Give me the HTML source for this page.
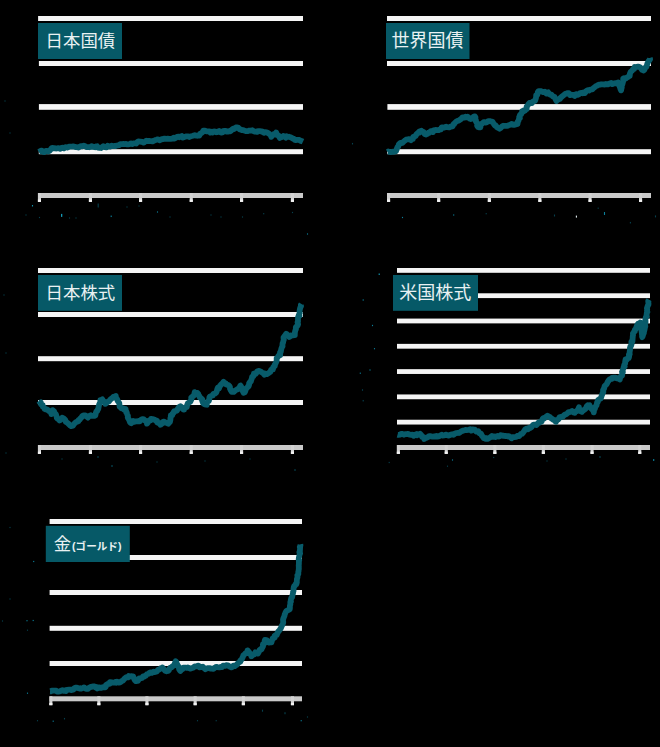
<!DOCTYPE html>
<html lang="ja"><head><meta charset="utf-8"><title>charts</title>
<style>html,body{margin:0;padding:0;background:#000;}body{width:660px;height:747px;overflow:hidden;font-family:"Liberation Sans",sans-serif;}svg{display:block}</style></head>
<body>
<svg width="660" height="747" viewBox="0 0 660 747">
<rect width="660" height="747" fill="#000"/>
<g id="chart1"><title>日本国債</title>
<rect x="38.1" y="16" width="264.9" height="5" fill="#f5f5f5"/>
<rect x="38.9" y="61" width="264.1" height="5" fill="#f5f5f5"/>
<rect x="38.9" y="104.1" width="264.1" height="5.7" fill="#f5f5f5"/>
<rect x="38.8" y="149.2" width="264.2" height="5" fill="#f5f5f5"/>
<rect x="38" y="193" width="265" height="5" fill="#c9c9c9"/>
<rect x="37.9" y="193" width="3.1" height="8.9" fill="#d2d2d2"/>
<rect x="37.9" y="199.6" width="3.1" height="2.3" fill="#f2f2f2"/>
<rect x="88.9" y="193" width="3.1" height="8.9" fill="#d2d2d2"/>
<rect x="88.9" y="199.6" width="3.1" height="2.3" fill="#f2f2f2"/>
<rect x="139" y="193" width="3.1" height="8.9" fill="#d2d2d2"/>
<rect x="139" y="199.6" width="3.1" height="2.3" fill="#f2f2f2"/>
<rect x="189.7" y="193" width="3.1" height="8.9" fill="#d2d2d2"/>
<rect x="189.7" y="199.6" width="3.1" height="2.3" fill="#f2f2f2"/>
<rect x="240" y="193" width="3.1" height="8.9" fill="#d2d2d2"/>
<rect x="240" y="199.6" width="3.1" height="2.3" fill="#f2f2f2"/>
<rect x="290.9" y="193" width="3.1" height="8.9" fill="#d2d2d2"/>
<rect x="290.9" y="199.6" width="3.1" height="2.3" fill="#f2f2f2"/>
<path d="M38.8 152 40.4 151.1 41.85 150.61 43.39 152.01 44.18 152.15 45.87 150.97 47.03 150.92 48.18 151.52 49.37 150.9 50.88 149.3 51.62 148.21 52.36 147.89 53.8 148.04 55.63 148.43 56.37 148.53 57.64 148.25 58.7 148.19 60.27 148.88 61.16 148.1 62.27 147.72 63.81 148.42 65.47 147.13 66.17 147.27 67.22 147.57 69.74 146.54 70.86 146.59 72.44 146.54 73.48 146.31 74.89 146.94 75.89 147.11 77.09 147.16 78.47 147.61 79.51 146.92 81.02 146.11 82.2 146.4 83.83 145.78 85.26 146.31 86.25 147.04 87.39 147.06 89.21 147.23 90.86 146.88 91.63 146.13 93.26 146.87 95.05 147.3 96.09 146.36 97.11 146.27 97.87 147.52 100.06 147.86 101.16 147.98 102.25 147.2 103.32 146.24 104.56 147 106.58 147.25 107.71 145.71 109.1 146.57 110.12 146.54 111.81 145.71 113.24 146.17 115.01 145.98 115.94 145.98 117.19 145.4 117.61 145.43 119.15 145.18 120.3 144.08 122.02 144.16 122.93 143.96 124.2 144.17 126.15 144.01 127.4 144.41 128.87 144.35 129.92 144.01 131.08 143.31 132.55 144.07 133.38 143.4 135.47 143.45 136.24 143.52 137.45 141.87 138.47 141.42 139.82 141.52 142.02 141.9 142.71 142.27 143.83 142.65 145.19 141.4 146.29 140.75 147.85 141.12 149.11 140.82 150.9 141.23 152.55 141.44 154.1 140.65 155.6 140.05 156.55 139.81 157.86 139.32 159.48 140.22 161.05 139.58 161.57 139.18 162.71 139.12 164.64 138.59 166.29 138.79 167.57 138.73 168.84 138.94 170.14 138.93 170.61 138.84 172.46 138.57 173.71 137.71 174.29 138.53 175.84 137.86 177.02 136.87 178.87 136.58 179.46 137.18 181.73 136.09 182.79 137.62 184.24 137.07 185.94 136.5 186.47 136.32 188.11 136.45 189.25 137.04 190.56 136.28 191.98 136.01 193.02 135.75 194.78 135.11 195.55 135.44 196.55 135.71 197.68 135.73 199.29 135.57 200.07 133.8 201.17 133.23 202.48 132.23 203.26 130.68 204.79 130.54 206.21 131.34 207.66 131.38 209.49 131.44 210.44 132.6 211.8 131.7 212.46 132.43 213.92 131.52 215.72 131.57 216.36 132.26 217.33 132.08 219.12 131.07 220.49 132.23 221.36 132.58 222.48 132.42 222.87 131.05 224.65 130.8 225.88 130.8 226.91 131.72 228.14 131.56 228.94 131.13 230.23 131.3 231.33 130.4 232.09 129.55 233.12 128.7 234.04 129.1 236.03 127.46 237.23 127.31 238.27 127.74 239.88 129.48 241.01 129.67 241.98 130.19 242.65 130.04 243.84 130.35 245.84 131.13 247.9 131.11 249.35 130.58 250.49 130.53 252.31 130.24 253.64 131.19 254.34 131.56 255.47 131.65 257.11 131.85 258.01 131.18 259.64 131.04 261.19 131.28 262.4 131.93 262.91 131.71 264.04 132.74 265.37 132.23 266.95 132.31 268.33 133.23 269.94 134.35 270.47 134.69 271.34 136.8 272.92 134.82 274.48 133.78 275.49 133.56 276.15 132.55 276.51 133.95 276.93 135.12 278.27 135.09 278.98 136.42 279.78 137.95 280.84 136.97 282.3 137.02 283.32 136.05 284.43 136.45 285.79 137.6 286.72 136.23 287.77 136.87 289.2 136.77 290.2 137.23 291.26 137.73 293.45 138.81 293.65 138.76 294.83 139.82 296.15 140.09 296.89 139.85 298.09 139.81 299.21 139.93 300.97 141.03 301.33 140.93 303 141.7" fill="none" stroke="#085b6a" stroke-width="5.8" stroke-linejoin="round" stroke-linecap="butt"/>
<rect x="38" y="23" width="84" height="36" fill="#065967"/>
<text x="45.6" y="47" font-size="17.4" fill="#e9f1f2" font-family="&quot;Liberation Sans&quot;, &quot;Noto Sans CJK JP&quot;, sans-serif">日本国債</text>
</g>
<g id="chart2"><title>世界国債</title>
<rect x="387" y="16" width="264" height="5" fill="#f5f5f5"/>
<rect x="387" y="61" width="264" height="5" fill="#f5f5f5"/>
<rect x="387.4" y="104.1" width="263.6" height="5.7" fill="#f5f5f5"/>
<rect x="387.2" y="149.2" width="263.8" height="5" fill="#f5f5f5"/>
<rect x="387" y="193" width="264" height="5" fill="#c9c9c9"/>
<rect x="387" y="193" width="3.1" height="8.9" fill="#d2d2d2"/>
<rect x="387" y="199.6" width="3.1" height="2.3" fill="#f2f2f2"/>
<rect x="437.1" y="193" width="3.1" height="8.9" fill="#d2d2d2"/>
<rect x="437.1" y="199.6" width="3.1" height="2.3" fill="#f2f2f2"/>
<rect x="487.8" y="193" width="3.1" height="8.9" fill="#d2d2d2"/>
<rect x="487.8" y="199.6" width="3.1" height="2.3" fill="#f2f2f2"/>
<rect x="538.3" y="193" width="3.1" height="8.9" fill="#d2d2d2"/>
<rect x="538.3" y="199.6" width="3.1" height="2.3" fill="#f2f2f2"/>
<rect x="588.5" y="193" width="3.1" height="8.9" fill="#d2d2d2"/>
<rect x="588.5" y="199.6" width="3.1" height="2.3" fill="#f2f2f2"/>
<rect x="639" y="193" width="3.1" height="8.9" fill="#d2d2d2"/>
<rect x="639" y="199.6" width="3.1" height="2.3" fill="#f2f2f2"/>
<path d="M387.5 152 388.2 151.51 390.65 152.2 391.58 151.95 393.65 151.65 394.08 151.77 395.99 151.18 396.48 149.85 396.87 148.88 397.43 147.26 398.33 146.48 398.65 145.05 398.8 144.42 400.41 142.95 401.29 143.08 402.35 142.9 404.06 141.23 405.13 140.45 406.11 139.68 408.23 139.25 409.4 139.12 410.95 140.15 412.21 138.97 412.9 138.91 413.24 136.89 414.47 136.4 415.53 136.03 416.63 134.01 417.52 133.38 418.92 131.88 419.58 132.4 420.48 131.26 421.35 130.76 422.25 131.67 423.4 131.81 424.59 133.86 425.8 134.51 427.45 133.86 428.43 132.77 429.26 132.82 430.8 131.13 432.17 131.54 432.99 132.05 433.79 130.41 435.51 129.93 436.76 130.13 438.62 130.21 439.4 129.62 440.88 129.34 441.68 127.42 442.86 127.5 444.02 127.68 445.13 127.04 446.13 126.76 447.3 127.19 449.23 127.44 450.68 126.69 452.45 126.39 453.5 124.2 454.23 124.09 454.44 123.27 456.05 121.72 457.42 120.89 458.7 120.68 460.07 119.73 461.6 118.47 462.18 117.62 462.67 117.36 464.28 117.58 465.46 116.76 466.9 117.32 467.63 116.83 469.85 118.62 470.67 119.05 472.51 118.45 473.69 116.66 474.88 116.45 475.48 117.32 475.09 118.25 475.92 120.25 475.93 121.4 476.45 122.36 477.12 123.05 477.9 124.45 477.16 125.69 478.26 127.15 478.67 127.41 480.41 127.31 480.45 126.9 480.41 124.89 481.58 123.87 482.43 123.44 482.93 122.65 483.93 122.07 484.69 122.11 485.75 122.53 486.82 122.15 488.23 121.11 489.54 121.04 490.69 121.36 492.58 121.76 493.5 123.54 494.16 124.37 495.12 125.56 495.7 125.52 496.91 127.17 498.15 127.76 499.55 128.71 501.06 127.6 502.3 126.28 503.24 125.77 505.47 125.91 506.76 125.97 507.97 125.68 508.51 125.26 510.4 124.8 511.49 123.9 513.42 124.84 514.82 124.74 514.94 124.44 516.3 124.28 517.58 123.89 517.69 121.77 518.45 120.75 519.09 118.49 519.84 117.96 519.27 116.81 519.21 116.99 520.18 114.72 521.13 114.38 521.9 112.76 522.22 111.07 524.28 110.18 524.77 110.81 526.09 109.38 526.7 109.15 526.63 106.51 527.52 105.66 528.25 104.47 529.57 102.95 530.7 102.82 531.82 103.15 532.8 101.63 535.04 100.74 535.64 99.06 535.95 97.89 536.19 96.38 536.17 95.12 537.3 94.66 537.81 92.77 537.76 92.15 538.74 91.03 540.49 91.04 542.2 91.66 543.25 92.18 544.92 91.75 545.7 92.35 546.49 93.51 548.18 92.37 549.55 94.28 550.16 94.6 551.39 94.67 552.84 96.38 554.09 96.77 554.48 96.95 555.72 99.53 556.56 100.96 556.82 100.33 558.21 99.57 559.88 98.87 560.48 97.92 561.88 96.58 562.97 95.76 564.51 94.55 565.43 93.83 566.63 93.49 567.34 93.12 568.76 93.21 570.24 95.09 570.94 94.61 571.92 94.82 573.35 94.94 574.67 95.99 575.74 94.41 576.76 94.15 577.68 94.78 578.8 94.3 579.94 93.27 581.03 92.82 582.6 93.28 583.43 92.52 584.86 92.98 586.06 91.39 586.52 90.76 588.02 90.04 588.99 90.47 590.29 89.61 592.2 89.43 593.3 88.32 594.24 87.58 595.63 86.39 596.2 85.96 597.34 85.57 598.75 84.68 600.3 84.7 601.19 84.27 603.16 84.4 604.9 84.65 605.95 84 607.25 84.3 608 84.27 609.86 83.49 611.18 82.96 612.41 84.14 612.88 83.97 614.19 83.38 614.87 83.21 616.15 83.35 618.12 82.53 618.49 83.9 618.74 84.63 619.45 86.11 619.79 86.69 620.59 89.3 621.11 90.34 621.31 89.07 621.78 87.25 621.67 86.34 621.44 85.2 622.39 84.29 622.58 83.37 622.95 82.18 623.23 80.96 623.16 78.66 624.2 78.16 625.66 78.68 627.05 77.42 627.95 77.1 628.85 76.15 629.75 75.87 629.87 73.81 630.66 71.84 631.78 70.84 632.76 69.92 632.96 69.01 634.14 68.87 634.66 66.96 635.55 67.33 636.39 66.81 637.6 66.77 638.8 66.73 640.13 67.15 641.19 68.55 642.05 69.8 643.74 70.46 644.47 69.57 645.22 67.62 646.52 66.79 646.62 66.3 647.26 63.97 647.82 62.92 648.06 61.92 648.72 61 650.09 59.15 649.7 58" fill="none" stroke="#085b6a" stroke-width="5.8" stroke-linejoin="round" stroke-linecap="butt"/>
<rect x="386" y="23" width="83.5" height="36" fill="#065967"/>
<text x="391.6" y="47" font-size="18" fill="#e9f1f2" font-family="&quot;Liberation Sans&quot;, &quot;Noto Sans CJK JP&quot;, sans-serif">世界国債</text>
</g>
<g id="chart3"><title>日本株式</title>
<rect x="38" y="268" width="265" height="5" fill="#f5f5f5"/>
<rect x="38" y="312" width="265" height="5" fill="#f5f5f5"/>
<rect x="38" y="356.2" width="265" height="5" fill="#f5f5f5"/>
<rect x="38" y="400" width="265" height="5" fill="#f5f5f5"/>
<rect x="38" y="445" width="265" height="5" fill="#c9c9c9"/>
<rect x="37.9" y="445" width="3.1" height="8.9" fill="#d2d2d2"/>
<rect x="37.9" y="451.6" width="3.1" height="2.3" fill="#f2f2f2"/>
<rect x="88.9" y="445" width="3.1" height="8.9" fill="#d2d2d2"/>
<rect x="88.9" y="451.6" width="3.1" height="2.3" fill="#f2f2f2"/>
<rect x="139" y="445" width="3.1" height="8.9" fill="#d2d2d2"/>
<rect x="139" y="451.6" width="3.1" height="2.3" fill="#f2f2f2"/>
<rect x="189.7" y="445" width="3.1" height="8.9" fill="#d2d2d2"/>
<rect x="189.7" y="451.6" width="3.1" height="2.3" fill="#f2f2f2"/>
<rect x="240" y="445" width="3.1" height="8.9" fill="#d2d2d2"/>
<rect x="240" y="451.6" width="3.1" height="2.3" fill="#f2f2f2"/>
<rect x="290.9" y="445" width="3.1" height="8.9" fill="#d2d2d2"/>
<rect x="290.9" y="451.6" width="3.1" height="2.3" fill="#f2f2f2"/>
<path d="M38.8 401 40.23 402.79 40.8 402.37 40.76 403.67 41.23 404.54 42.68 405 42.65 406.53 43.4 406.65 44.73 408.99 45.67 409.45 47.38 409.67 47.35 409.65 48.39 410.69 49.68 411.21 50.69 411.55 51.35 414.08 52.42 411.61 52.67 410.14 54.13 411.38 54.31 412.71 55.34 413.79 55.84 414.32 56.72 416.87 56.79 417.77 57.68 418.78 58.63 419.01 59.5 420.4 60.45 419.89 62.19 417.8 63.69 418.38 64.04 418.88 65.29 419.89 65.78 421.87 66.38 422.15 68.12 423.31 68.34 423.66 69.89 425.23 71.14 426.08 71.98 425.94 72.99 425.72 73.71 424.36 75.01 422.97 76.08 422.1 77.18 421.59 78.42 421.24 78.69 419.94 79.79 419.49 80.4 418.46 81.28 417.67 82.17 416.16 83.33 415.42 84.2 415.73 85.16 415.44 86.29 415.99 87.82 417.61 89.08 416.14 90.76 415.27 91.57 415.9 93.49 415.95 94.41 415.92 95.35 415.46 95.73 413.42 96.3 411.58 97.17 411.08 97.81 409.44 98.32 408.96 98.39 408.25 98.56 407.38 99.07 404.69 99.41 403.98 100.46 401.81 100.32 400.2 101.33 400.04 102.28 399.38 102.84 400.5 103.96 401.41 104.53 401.95 105.32 403.79 106.94 402.61 108.21 401.53 108.74 401.67 110.39 399.55 111.67 398.46 112.28 398.19 113.42 396.89 114.61 396.67 115.74 395.93 115.68 397.26 116.78 398.73 117.35 399.97 117.71 400.62 117.93 401.31 119.26 402.97 119.41 404.44 119.57 406.57 120.6 407.08 121.13 408.08 122.02 408.45 123.26 408.52 124.36 409.86 125.59 409.1 125.95 411.84 126.49 411.73 127.13 414.04 127.95 415.97 127.75 417.25 128.1 418.26 129.23 420.04 129.76 421.6 130.01 422.28 130.75 423.03 131.24 423.29 132.5 422.07 133.33 421.08 134.63 421.8 136.14 421.32 138.32 421.18 139.75 421.27 140.96 419.88 141.7 419.37 142.74 419.18 143.88 419.37 145.16 420.73 146.94 421.95 146.98 423.7 148 422.49 148.9 420.7 150.65 420.39 151.06 418.82 152.43 419.04 154.24 419.51 155.36 420.23 157.08 420.79 157.23 422.38 158.63 423.05 160.03 423.88 160.51 424.75 162.35 423.2 162.64 421.95 163.97 421.59 164.91 422.61 166.24 422.68 168.24 423.74 168.74 423.07 169.95 421.85 170.44 419.61 170.39 418.33 170.85 417.11 170.81 415.41 172.33 415.21 172.5 413.75 173.6 412.85 173.65 412.01 174.16 411.38 175.39 411 176.99 410.6 177.74 408.98 178.95 407.27 180.52 406.24 181.12 406.73 181.78 407.87 183.56 409.53 184.17 409.5 184.33 407.83 185.48 407.37 186.79 406.94 187.05 405.34 187.84 403.3 188.66 402.64 190.15 401.75 190.69 400.98 191.4 399.31 191.2 397.72 192.44 396.85 192.67 396.22 193.55 395.92 194.21 394.47 194.66 392.19 195.4 392.77 196.27 393.08 197.42 392.92 198.33 394.12 198.45 395.31 199.52 396.38 199.75 397.4 201.23 398.42 201.73 398.91 202.28 399.42 202.08 400.26 202.42 401.32 203.02 403.07 204.75 404.33 206.05 404.54 206.79 404.72 206.83 402.94 208.07 401.29 208.88 400.97 209.26 399.1 209.42 397.36 210.01 396.6 210.79 396.17 212.19 395.59 212.85 395.48 213.45 393.86 215.04 393.5 216.25 392.48 216.86 390.91 217.26 389.31 217.82 387.74 218.99 388.34 219.99 385.68 220.29 385.54 221.41 384.19 222.76 383.07 223.54 381.76 223.92 382.76 225.65 383.26 225.88 384.25 228.56 385.24 229.54 386.25 229.94 387.05 229.99 388.69 230.48 389.5 230.73 390.29 231.81 391.96 233.61 391.92 235.2 390.57 235.65 390.22 236.94 389.53 237.65 389.24 238.26 388.68 239.34 387.77 240.21 385.91 240.58 385.63 241.24 386.87 241.27 387.18 241.38 388.66 242.48 390.59 243.63 392.71 243.53 392.75 244.37 392.02 244.93 392.18 245.63 390.1 246.25 388.32 247.36 387.5 248.23 386.15 248.68 386.07 249.23 384.17 249.09 383.35 249.8 382.27 250.93 381.25 251.08 380.42 251.71 378.77 252.16 376.7 253.39 376.31 254.03 374.11 253.95 373.69 255.64 373.92 256.26 373.01 257.3 371.29 259.1 370.92 260.45 371.43 261.82 372.39 263.41 373.42 264.41 374.65 264.86 373.48 266.18 374.13 267.24 374.03 268.84 372.83 270.27 371.85 270.6 371.32 271.09 369.8 271.32 369.53 272.95 369.47 273.21 367.06 273.69 366.72 274.82 365.84 274.72 364.74 275.16 364.12 276 362.39 276.54 361.26 276.71 360.44 276.63 358.19 277.79 357.14 278.56 355.81 279.25 355.14 280.14 355.06 280 352.48 280.8 351.74 281.16 349.49 281.54 348.12 282.14 346.77 282.57 346.3 282.4 345.6 282.45 345.18 282.56 343.45 282.96 342.86 283.33 341.15 283.85 339.59 283.63 338.58 283.51 337.47 284.64 336.01 285.9 334.41 286.27 333.71 287.59 335.25 288.26 335.75 289.26 337.01 290.04 336.57 290.6 335.44 291.82 335.52 292.52 335.44 294.03 335.08 294.8 335.12 294.78 333.94 295.05 331.49 295.5 329.96 295.95 329.08 295.82 328.06 295.9 327.01 297 326.18 297.77 325.15 298.08 324.14 297.54 322.16 298 321.4 297.97 320.62 297.99 318.32 298.21 316.48 299.45 315.86 298.75 315.14 299.55 313.41 299.84 313 299.49 311.6 299.54 311.17 299.96 308.88 300.2 307.77 301.03 306.22 300.83 305.09 301.5 304" fill="none" stroke="#085b6a" stroke-width="5.8" stroke-linejoin="round" stroke-linecap="butt"/>
<rect x="38" y="275" width="84" height="35.8" fill="#065967"/>
<text x="45.6" y="298.5" font-size="17.4" fill="#e9f1f2" font-family="&quot;Liberation Sans&quot;, &quot;Noto Sans CJK JP&quot;, sans-serif">日本株式</text>
</g>
<g id="chart4"><title>米国株式</title>
<rect x="397" y="268" width="253" height="4.8" fill="#f5f5f5"/>
<rect x="397" y="293.29" width="253" height="4.8" fill="#f5f5f5"/>
<rect x="397" y="318.58" width="253" height="4.8" fill="#f5f5f5"/>
<rect x="397" y="343.87" width="253" height="4.8" fill="#f5f5f5"/>
<rect x="397" y="369.16" width="253" height="4.8" fill="#f5f5f5"/>
<rect x="397" y="394.45" width="253" height="4.8" fill="#f5f5f5"/>
<rect x="397" y="419.74" width="253" height="4.8" fill="#f5f5f5"/>
<rect x="397" y="445" width="253" height="5" fill="#c9c9c9"/>
<rect x="396.8" y="445" width="3.1" height="8.9" fill="#d2d2d2"/>
<rect x="396.8" y="451.6" width="3.1" height="2.3" fill="#f2f2f2"/>
<rect x="444.7" y="445" width="3.1" height="8.9" fill="#d2d2d2"/>
<rect x="444.7" y="451.6" width="3.1" height="2.3" fill="#f2f2f2"/>
<rect x="493.3" y="445" width="3.1" height="8.9" fill="#d2d2d2"/>
<rect x="493.3" y="451.6" width="3.1" height="2.3" fill="#f2f2f2"/>
<rect x="541.8" y="445" width="3.1" height="8.9" fill="#d2d2d2"/>
<rect x="541.8" y="451.6" width="3.1" height="2.3" fill="#f2f2f2"/>
<rect x="590.5" y="445" width="3.1" height="8.9" fill="#d2d2d2"/>
<rect x="590.5" y="451.6" width="3.1" height="2.3" fill="#f2f2f2"/>
<rect x="638.2" y="445" width="3.1" height="8.9" fill="#d2d2d2"/>
<rect x="638.2" y="451.6" width="3.1" height="2.3" fill="#f2f2f2"/>
<path d="M397.5 434.7 398.27 434.91 399.89 434.67 401.42 433.78 402.22 433.93 403.35 434.42 403.95 434.71 405.14 434.12 406.69 434.1 408.05 433.91 409.67 434.69 411.18 434.9 412.45 434.71 413.5 435.83 414.73 434.89 416.58 434.02 417.05 435.22 418.3 434.63 420 433.72 421.18 434.96 422.19 437.05 423.24 437.06 423.8 437.27 424.24 439.04 424.81 437.86 426.23 437.79 427.88 437.01 429.01 436.21 430.35 436.23 432.24 436.52 432.84 436.67 434.42 436.5 434.87 436.71 436.58 435.99 437.23 436.64 438.89 436.42 439.86 435.72 441.65 434.74 442.24 435.48 444.39 435.36 445.58 434.59 447.56 435.26 448.43 435.58 449.8 435.27 450.77 434.52 452.26 434.27 453.24 434.45 453.53 434.68 454.97 433.44 456.41 433.03 457.8 432.84 458.93 433 459.75 432.5 461.44 431.17 463.12 430.62 464.78 430.26 465.43 429.8 466.78 430.03 468.36 429.95 470.24 429.27 471.29 430.48 472.52 429.32 473.82 429.7 474.76 429.71 475.96 431.52 477.29 431.71 478.32 431.19 479.5 433.38 480.89 433.58 481.43 434.71 481.82 435.6 483.19 437.21 483.62 438.04 484.09 438.27 485.68 438.19 485.68 438.77 486.81 438.14 487.54 438.9 489.52 437.81 490.76 437.08 492 435.94 493.63 436.9 494.22 436.39 495.71 437.06 497.51 435.96 499.03 436.49 499.55 436.18 500.47 435.24 502.73 435.52 503.77 435.96 505.54 436 506.99 436.06 508.39 436.62 508.8 436.12 510.03 436.73 511.49 438.24 512.6 437.25 514.37 437.07 516.28 436.87 517.34 435.95 518.88 435.6 519.07 436.07 520.98 433.85 522.11 433.73 523.21 432.54 524.16 431.02 525.2 429.47 525.69 429.78 526.26 428.68 528.27 429.19 528.79 427.96 530.27 428.02 530.97 427.48 531.8 426.78 532.36 425.65 533.66 424.55 535.65 424.64 536.43 424.96 537.29 424.01 538.64 422.49 539.41 422.59 540.49 421.77 541.61 421.57 542.46 419.25 543.31 418.27 544.09 418.49 546 416.89 547.4 415.81 548.07 416.22 550 417.13 550.92 418.18 551.78 418.57 553.46 419.8 555.26 420.09 555.3 421.47 556.09 421.78 556.59 420.22 558.03 419.62 558.84 418.59 559.51 417.3 560.57 416.96 561.65 417.05 562.76 416.6 564.28 415.05 565.03 414.62 566.13 414.29 567.25 413.33 568.28 412.36 569.45 412.04 570.77 411.77 572.03 411.05 573.45 412.37 574.71 412.72 574.81 412.33 576.01 411.39 576.82 411.16 578.2 409.21 578.98 407.2 578.92 408.99 580.19 411.03 581.12 411.19 581.86 411.8 582.37 411.15 583.01 410.69 584 409.97 585.58 408.7 586.76 406.4 587.74 405.42 588.25 406.22 589.56 405.38 589.66 406.72 590.45 406.87 591.03 408.27 592.25 409.55 593.47 410.78 593.77 412.37 594.03 409.97 594.12 409.07 594.93 408.64 595.34 406.79 596.46 405.4 596.8 404.09 597.12 402.3 597.87 401.89 598.14 399.89 599.73 399.19 599.73 398.89 600.81 398.57 601.03 397.79 601.69 395.59 602.18 394.48 602.71 392.57 603.35 392.13 603.06 390.27 603.82 388.6 604.09 388.65 604.56 386.27 605.81 384.91 606.22 384.66 606.96 383.59 607.49 382.25 608.55 380.74 609.23 379.73 609.85 379.43 609.86 379.21 611.75 378.84 612.1 377.93 614 377.58 615.45 377.74 616.53 378.41 617.64 378.2 618.64 378.64 619.77 379.48 620.01 377.94 620.86 376.61 620.93 376.19 622.1 375.62 622.4 372.81 622.06 371.93 622.86 372.27 622.69 370.06 623.37 368.54 623.65 367.01 624.67 366.45 624.2 365.11 624.63 364.05 625.18 363.43 625.15 361.75 625.6 359.39 626.61 359.85 627.75 358.11 628.8 358.01 629.15 356.3 628.86 354.67 629.71 354.11 629.46 353.49 629.78 351.1 630.06 349.77 629.94 348.09 630.16 348.11 630.44 346.18 631.05 345.71 631.57 344.17 631.34 341.79 631.77 341.32 632.43 341.31 632.59 338.88 632.79 336.54 632.83 335.78 633.02 335.31 632.94 333.27 633.39 332.85 634.32 331.61 634.87 331.29 634.76 329.92 635.83 328.93 636.15 328.34 636.28 327.27 636.76 326.15 637.98 323.67 639.09 323.74 640.4 322.54 640.22 322.43 640.54 325.06 641.32 325.86 640.95 327.05 641.26 329.03 641.57 330.5 641.55 331.4 641.69 331.64 641.97 334.37 642.28 335.31 642.05 336.24 642.25 337.19 642.72 336.09 643.09 334.73 643.85 332.81 643.06 332.74 643.65 332.6 644.32 330.45 644.59 329.34 644.99 327.26 645.33 326.43 644.96 325.31 645.15 323.26 645.54 322.51 645.53 320.69 645.39 319.95 645.44 319.17 645.81 317.28 646.79 316.5 646.4 315.95 646.6 314.93 646.86 312.62 647.39 311.95 646.96 310.86 647.21 309.71 646.92 308.27 647.71 305.75 648.41 304.65 648.5 303.69 648.31 302.04 648.21 301.12 649.1 299.7" fill="none" stroke="#085b6a" stroke-width="5.8" stroke-linejoin="round" stroke-linecap="butt"/>
<rect x="393" y="275" width="85" height="35.8" fill="#065967"/>
<text x="399.3" y="298.5" font-size="18" fill="#e9f1f2" font-family="&quot;Liberation Sans&quot;, &quot;Noto Sans CJK JP&quot;, sans-serif">米国株式</text>
</g>
<g id="chart5"><title>金(ゴールド)</title>
<rect x="49.6" y="519" width="252.4" height="5" fill="#f5f5f5"/>
<rect x="49.6" y="555" width="252.4" height="5" fill="#f5f5f5"/>
<rect x="49.6" y="590" width="252.4" height="5" fill="#f5f5f5"/>
<rect x="49.6" y="625.8" width="252.4" height="5" fill="#f5f5f5"/>
<rect x="49.6" y="661" width="252.4" height="5" fill="#f5f5f5"/>
<rect x="49.6" y="696.3" width="252.4" height="5" fill="#c9c9c9"/>
<rect x="49.3" y="696.3" width="3.1" height="8.9" fill="#d2d2d2"/>
<rect x="49.3" y="702.9" width="3.1" height="2.3" fill="#f2f2f2"/>
<rect x="97.3" y="696.3" width="3.1" height="8.9" fill="#d2d2d2"/>
<rect x="97.3" y="702.9" width="3.1" height="2.3" fill="#f2f2f2"/>
<rect x="145.4" y="696.3" width="3.1" height="8.9" fill="#d2d2d2"/>
<rect x="145.4" y="702.9" width="3.1" height="2.3" fill="#f2f2f2"/>
<rect x="193.6" y="696.3" width="3.1" height="8.9" fill="#d2d2d2"/>
<rect x="193.6" y="702.9" width="3.1" height="2.3" fill="#f2f2f2"/>
<rect x="241.8" y="696.3" width="3.1" height="8.9" fill="#d2d2d2"/>
<rect x="241.8" y="702.9" width="3.1" height="2.3" fill="#f2f2f2"/>
<rect x="290.9" y="696.3" width="3.1" height="8.9" fill="#d2d2d2"/>
<rect x="290.9" y="702.9" width="3.1" height="2.3" fill="#f2f2f2"/>
<path d="M50 691.3 50.68 691.32 51.9 690.68 53.14 690.69 54.5 690.72 56.12 690.62 56.85 691.54 58.62 691.57 59.94 691.45 61.03 690.66 62.37 690.18 63.73 690.83 65.57 690.21 66.07 691.08 67.14 689.8 69 689.67 70.15 689.67 71.67 690.09 72.95 689.24 73.58 689.49 74.59 687.98 76.03 687.56 77.67 687.9 79.68 688.55 80.46 688.24 81.32 688.5 82.9 687.88 84 687.42 85.59 688.58 86.61 688.88 88.02 688.93 89.24 687.58 90.33 687.13 91.28 686.82 93.47 686.31 94.31 686.46 96.05 687.81 96.58 686.93 97.31 688.35 98.79 687.42 101.02 687.94 101.73 687.5 103.44 687.13 105.18 687.37 105.83 686.6 106.07 684.98 108.05 683.83 109.63 683.75 109.85 682.08 111.8 682.4 112.66 682.55 114.3 682.71 115.28 681.91 116.16 682.62 117 681.77 118.82 682.51 120.44 682.37 121.66 681.09 123 680.5 123.6 679.67 124.86 678.34 126.41 677.22 127.76 677.46 128.68 676.15 129.3 676.81 131.15 676.14 132.51 676.34 133.22 676.56 134.22 678.89 135 680.39 135.94 681.18 137.48 680.67 137.99 680.74 138.4 679.85 139.32 678.31 140.94 678.29 141.97 678.03 143.23 676.37 144.28 676.62 145 675.78 145.78 675.62 146.92 674.21 148.73 673.68 149.34 672.73 150.65 672.44 151.84 672.84 153.6 671.63 154.94 672.11 156.68 671.53 158.25 669.75 159.43 669.43 159.88 669.14 160.77 668.18 161.88 668.41 162.51 667.62 163.94 669.35 165.21 670.73 166.66 671.25 168.08 670.99 169.03 669.97 169.3 668.67 170.05 667.87 171.51 667.54 172.19 666.43 173.92 665.4 174.56 664.2 175.14 662.58 175.65 661.17 176.24 661.96 177.05 663.85 178.13 666.18 178.79 666.76 179.11 669.18 180.29 671.03 181.21 669.3 182.62 669.08 183.53 667.59 184.32 667.57 185.89 667.74 186.62 667.89 187.92 667.38 188.73 667.88 190.33 668.65 191.59 668.04 193.29 667.71 194.41 666.66 194.91 666.42 197 666.3 198.16 665.63 199.46 667.32 200.72 666.65 201.47 667.11 202.85 666.73 204.13 668.04 205.33 669.16 205.93 668.73 207.47 668.22 209.35 668.12 210.93 668.62 211.88 668.62 213.46 668.88 214.26 668.15 216.33 666.8 217.37 667.18 219.26 667.45 220.71 666.88 222.05 667.1 223.14 665.64 223.93 665.8 225.22 665.88 226.16 665.22 228.05 665.32 229.56 666.73 230.19 666.44 231.47 667.33 232.57 666.88 233.45 665.66 234.84 666.04 236.01 665.22 237.44 664.3 237.41 663.73 238.84 662.5 240.39 661.74 240.3 660.51 241.7 659.44 242.28 658.1 243.03 656.57 243.33 655.52 244.24 654.7 245.13 653.91 245.3 653.34 246.72 653.1 247.33 651.61 247.49 650.38 248.43 651.6 248.84 651.84 249.97 653.68 250.91 654.32 251.3 656.24 253.15 654.67 254.1 654.43 254.71 653.6 255.27 652.38 257.3 653.52 257.8 653.62 258.69 652.19 259.46 650.29 260.99 648.94 261.52 649.41 261.92 648.18 262.99 646.33 263 646.09 262.91 644.33 263.82 644.22 264.41 642.03 264.9 640.02 266.82 640.13 267.14 641.6 269.1 642.53 270.59 642.47 271.53 642.33 271.76 640.82 272.11 640.38 272.61 638.46 274.71 637.57 274.62 635.87 275.52 635.37 276.81 634.93 277.2 633.6 277.89 632.45 278.15 631.52 279.03 630.84 279.91 629.55 280.04 629.31 280.97 627.86 281.71 625.9 282.15 625.34 283.08 623.19 283.21 622.42 283.12 620.73 283.02 619.69 283.32 618.61 283.7 617.61 284.45 615.89 284.79 614.19 285.35 613.07 285.62 612.22 286.49 610.86 288.11 610.18 289.7 609.26 289.87 608.24 289.93 606.5 289.92 605.65 290.35 604.39 290.34 603.26 290.32 602 290.91 601.51 290.75 601.21 290.82 599.86 291.2 598.15 292.02 597.36 292.29 595.88 292.68 594.65 293.01 593.37 293.02 591.96 293.55 590.87 293.51 588.99 293.73 587.51 294.14 586.24 294.98 585.49 295.54 584.23 296.33 584.12 296.85 582.22 296.77 581.67 296.96 578.77 297.21 578.31 297.55 576.88 297.34 575.37 298.34 574.06 298.27 572.06 298.55 571.31 298.57 570.59 298.86 568.79 298.79 568.58 298.82 566.1 298.71 565.94 298.92 563.53 298.88 561.59 299.22 560.29 298.69 559.42 298.93 557.61 299.13 556.58 299.62 554.44 300.14 553.34 299.38 552.29 299.74 551.3 299.89 551.33 300.04 548.53 300.1 547.08 299.8 547.03 300.46 545.35 300.3 544.3" fill="none" stroke="#085b6a" stroke-width="5.8" stroke-linejoin="round" stroke-linecap="butt"/>
<rect x="45.8" y="525.8" width="84" height="36.2" fill="#065967"/>
<text x="53.8" y="550" font-size="17.4" fill="#e9f1f2" font-family="&quot;Liberation Sans&quot;, &quot;Noto Sans CJK JP&quot;, sans-serif">金</text>
<text x="72" y="550" font-size="10.5" font-weight="bold" fill="#e9f1f2" textLength="49.5" lengthAdjust="spacingAndGlyphs" font-family="&quot;Liberation Sans&quot;, &quot;Noto Sans CJK JP&quot;, sans-serif">(ゴールド)</text>
</g>
<g id="specks">
<rect x="31.95" y="205.2" width="1.1" height="1.2" fill="#18b4d4"/>
<rect x="61.15" y="213.9" width="1.1" height="3" fill="#18b4d4"/>
<rect x="97.65" y="203.5" width="1.1" height="4" fill="#06404d"/>
<rect x="110.65" y="215.55" width="1.1" height="1.5" fill="#0b7f99"/>
<rect x="156.95" y="211.4" width="1.1" height="1.2" fill="#0b7f99"/>
<rect x="25.45" y="214.4" width="1.1" height="1.2" fill="#06404d"/>
<rect x="38.95" y="216.9" width="1.1" height="1.2" fill="#06404d"/>
<rect x="68.95" y="217.4" width="1.1" height="1.2" fill="#06404d"/>
<rect x="75.45" y="217.4" width="1.1" height="1.2" fill="#06404d"/>
<rect x="138.45" y="205.4" width="1.1" height="1.2" fill="#06404d"/>
<rect x="126.45" y="206.4" width="1.1" height="1.2" fill="#06404d"/>
<rect x="169.45" y="216.4" width="1.1" height="1.2" fill="#06404d"/>
<rect x="210.45" y="214.4" width="1.1" height="1.2" fill="#06404d"/>
<rect x="220.45" y="216.4" width="1.1" height="1.2" fill="#06404d"/>
<rect x="241.95" y="216.4" width="1.1" height="1.2" fill="#06404d"/>
<rect x="263.15" y="213.1" width="1.1" height="1.2" fill="#06404d"/>
<rect x="306.95" y="233.4" width="1.1" height="1.2" fill="#0b7f99"/>
<rect x="291.95" y="211.9" width="1.1" height="1.2" fill="#06404d"/>
<rect x="351.95" y="142.95" width="1.1" height="1.5" fill="#06404d"/>
<rect x="401.95" y="216.9" width="1.1" height="1.2" fill="#0b7f99"/>
<rect x="453.15" y="214.4" width="1.1" height="1.2" fill="#0b7f99"/>
<rect x="485.65" y="213.1" width="1.1" height="1.2" fill="#06404d"/>
<rect x="575.85" y="215.6" width="1.1" height="2" fill="#e8f4f6"/>
<rect x="603.95" y="212" width="1.1" height="3" fill="#0b7f99"/>
<rect x="597.65" y="207.6" width="1.1" height="1.2" fill="#06404d"/>
<rect x="553.95" y="214.5" width="1.1" height="2" fill="#06404d"/>
<rect x="654.95" y="215.4" width="1.1" height="2" fill="#06404d"/>
<rect x="629.85" y="221.95" width="1.1" height="1.5" fill="#06404d"/>
<rect x="378.65" y="273.55" width="1.1" height="1.3" fill="#18b4d4"/>
<rect x="362.65" y="299.35" width="1.1" height="1.3" fill="#0b7f99"/>
<rect x="371.95" y="324.85" width="1.1" height="1.3" fill="#0b7f99"/>
<rect x="373.95" y="348.1" width="1.1" height="1.2" fill="#0b7f99"/>
<rect x="369.45" y="369.4" width="1.1" height="1.2" fill="#0b7f99"/>
<rect x="359.75" y="372.6" width="1.1" height="1.2" fill="#0b7f99"/>
<rect x="361.95" y="389.25" width="1.1" height="1.5" fill="#06404d"/>
<rect x="362.65" y="399.95" width="1.1" height="1.5" fill="#06404d"/>
<rect x="388.65" y="461.9" width="1.1" height="1.2" fill="#06404d"/>
<rect x="451.95" y="459.4" width="1.1" height="1.2" fill="#0b7f99"/>
<rect x="446.95" y="465.6" width="1.1" height="1.2" fill="#06404d"/>
<rect x="493.15" y="456.9" width="1.1" height="1.2" fill="#06404d"/>
<rect x="653.15" y="459" width="1.1" height="2" fill="#0b7f99"/>
<rect x="599.45" y="456" width="1.1" height="2" fill="#06404d"/>
<rect x="565.45" y="458.4" width="1.1" height="1.2" fill="#06404d"/>
<rect x="546.45" y="460.4" width="1.1" height="1.2" fill="#06404d"/>
<rect x="9.45" y="526.9" width="1.1" height="1.2" fill="#06404d"/>
<rect x="33.15" y="560.9" width="1.1" height="1.2" fill="#0b7f99"/>
<rect x="9.45" y="598.4" width="1.1" height="1.2" fill="#06404d"/>
<rect x="26.45" y="620.1" width="1.1" height="1.2" fill="#0b7f99"/>
<rect x="32.65" y="619.9" width="1.1" height="1.2" fill="#0b7f99"/>
<rect x="1.95" y="620.4" width="1.1" height="1.2" fill="#06404d"/>
<rect x="26.95" y="629.6" width="1.1" height="1.2" fill="#06404d"/>
<rect x="26.95" y="692.6" width="1.1" height="1.2" fill="#0b7f99"/>
<rect x="52.65" y="720.6" width="1.1" height="1.2" fill="#0b7f99"/>
<rect x="36.95" y="720.1" width="1.1" height="1.2" fill="#06404d"/>
<rect x="63.95" y="717.95" width="1.1" height="1.5" fill="#06404d"/>
<rect x="196.95" y="720.1" width="1.1" height="1.2" fill="#06404d"/>
<rect x="215.65" y="720.1" width="1.1" height="1.2" fill="#06404d"/>
<rect x="261.95" y="709.7" width="1.1" height="2" fill="#06404d"/>
<rect x="284.45" y="712.2" width="1.1" height="2" fill="#06404d"/>
<rect x="300.65" y="720.1" width="1.1" height="1.2" fill="#0b7f99"/>
<rect x="306.95" y="716.4" width="1.1" height="1.2" fill="#06404d"/>
<rect x="4.45" y="100.4" width="1.1" height="1.2" fill="#06404d"/>
<rect x="9.45" y="132.4" width="1.1" height="1.2" fill="#06404d"/>
<rect x="5.45" y="352.4" width="1.1" height="1.2" fill="#06404d"/>
<rect x="3.45" y="294.4" width="1.1" height="1.2" fill="#06404d"/>
<rect x="5.45" y="452.4" width="1.1" height="1.2" fill="#06404d"/>
<rect x="61.45" y="458.4" width="1.1" height="1.2" fill="#06404d"/>
<rect x="97.45" y="456" width="1.1" height="2" fill="#06404d"/>
<rect x="111.45" y="465.4" width="1.1" height="1.2" fill="#0b7f99"/>
<rect x="156.45" y="461.4" width="1.1" height="1.2" fill="#06404d"/>
<rect x="204.45" y="460.4" width="1.1" height="1.2" fill="#06404d"/>
<rect x="249.45" y="458.4" width="1.1" height="1.2" fill="#06404d"/>
<rect x="294.45" y="469" width="1.1" height="2" fill="#06404d"/>
</g>
</svg>
</body></html>
